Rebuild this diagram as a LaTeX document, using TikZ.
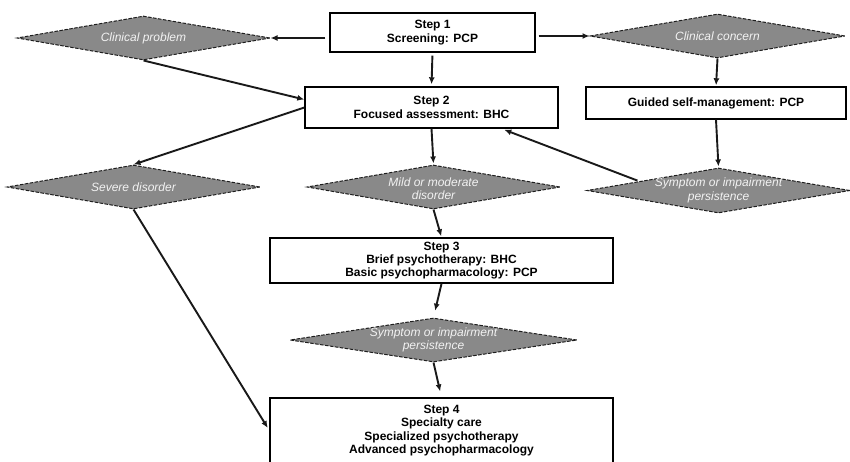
\documentclass[tikz,border=0pt]{standalone}
\usepackage{fontspec}
\setmainfont{Liberation Sans}
\usetikzlibrary{shapes.geometric,arrows.meta,calc}
\definecolor{dfill}{RGB}{137,137,137}
\definecolor{dtext}{RGB}{242,242,242}
\definecolor{dline}{RGB}{30,30,30}
\begin{document}
\begin{tikzpicture}[x=1pt,y=-1pt,
  box/.style={draw=black,line width=1.4pt,fill=white,font=\bfseries\fontsize{12}{13.3}\selectfont,align=center,inner sep=0pt},
  diam/.style={diamond,draw=dline,dash pattern=on 3.5pt off 1.5pt,line width=1pt,fill=dfill,inner sep=0pt},
  dtxt/.style={text=dtext,font=\itshape\fontsize{12}{13.3}\selectfont,align=center,inner sep=0pt},
  arr/.style={line width=1.9pt,draw=black!90,-{Latex[length=7pt,width=6pt]}}]
\useasboundingbox (0,0) rectangle (850,461);
\clip (0,0) rectangle (850,461);
\fill[white] (0,0) rectangle (850,461);
% boxes
\node[box,minimum width=205pt,minimum height=39pt] (s1) at (432.5,32.5) {Step 1\\Screening: PCP};
\node[box,minimum width=253pt,minimum height=41pt] (s2) at (431.5,107.5) {Step 2\\Focused assessment: BHC};
\node[box,minimum width=260pt,minimum height=32pt] (gs) at (716,103) {Guided self-management: PCP};
\node[box,minimum width=343pt,minimum height=45pt] (s3) at (441.5,260.5) {Step 3\\Brief psychotherapy: BHC\\Basic psychopharmacology: PCP};
\node[box,minimum width=343pt,minimum height=65pt] (s4) at (441.5,430.5) {Step 4\\Specialty care\\Specialized psychotherapy\\Advanced psychopharmacology};
% diamonds
\node[diam,minimum width=253pt,minimum height=44pt] (cp) at (143.5,38) {};
\node[dtxt] (cpt) at (cp.center) {Clinical problem};
\node[diam,minimum width=255pt,minimum height=44pt] (cc) at (717.5,36) {};
\node[dtxt] (cct) at (cc.center) {Clinical concern};
\node[diam,minimum width=253pt,minimum height=44pt] (sev) at (133.5,187) {};
\node[dtxt] (sevt) at (sev.center) {Severe disorder};
\node[diam,minimum width=253pt,minimum height=44pt] (mild) at (433.5,187) {};
\node[dtxt] (mildt) at (433.5,189) {Mild or moderate\\disorder};
\node[diam,minimum width=263pt,minimum height=45pt] (sym1) at (718.5,190.5) {};
\node[dtxt] (sym1t) at (sym1.center) {Symptom or impairment\\persistence};
\node[diam,minimum width=287pt,minimum height=44pt] (sym2) at (433.5,340) {};
\node[dtxt] (sym2t) at (sym2.center) {Symptom or impairment\\persistence};
% connectors
\draw[arr,shorten <=4pt] (s1.west |- cp.east) -- (cp.east);
\draw[arr,shorten <=3pt] (s1.east |- cc.west) -- (cc.west);
\draw[arr,shorten <=3pt,shorten >=2pt] (s1.south) -- (s2.north);
\draw[arr] (cp.south) -- ([yshift=8pt]s2.west);
\draw[arr] (s2.west) -- (sev.north);
\draw[arr,shorten >=1pt] (s2.south) -- (mild.north);
\draw[arr,shorten >=1pt] (cc.south) -- (gs.north);
\draw[arr,shorten >=1pt] (gs.south) -- (sym1.north);
\draw[arr,shorten <=2pt,shorten >=3pt] ($(sym1.north)!0.6!(sym1.west)$) -- ([xshift=70pt]s2.south);
\draw[arr,shorten >=1pt] (mild.south) -- (s3.north);
\draw[arr,shorten >=3pt] (sev.south) -- (s4.west);
\draw[arr,shorten >=7pt] (s3.south) -- (sym2.north);
\draw[arr,shorten >=6pt] (sym2.south) -- (s4.north);
\end{tikzpicture}
\end{document}
